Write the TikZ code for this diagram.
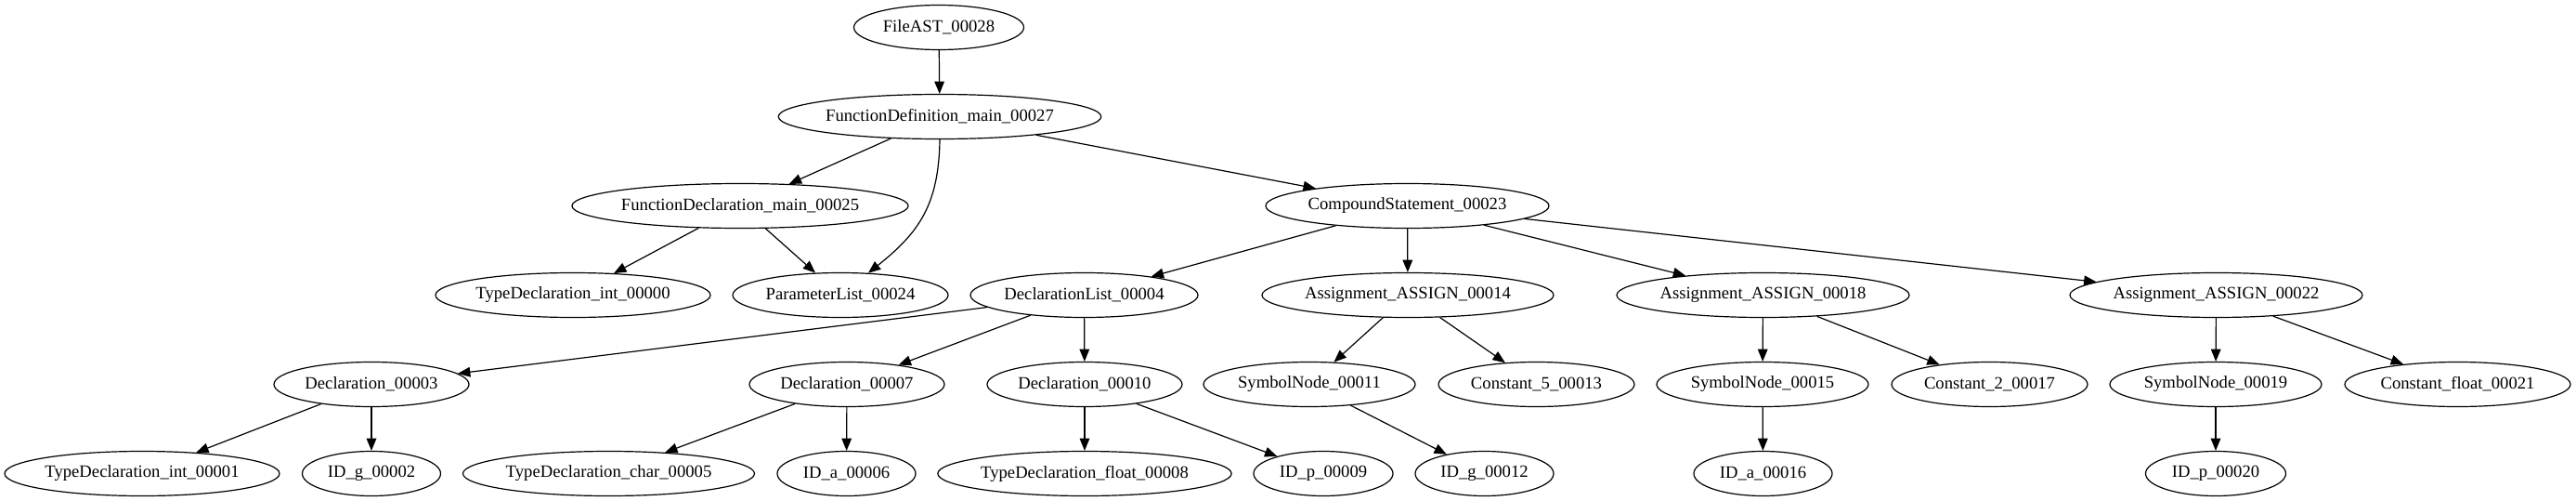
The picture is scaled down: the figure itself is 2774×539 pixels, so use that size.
\documentclass[tikz,border=0pt]{standalone}
\usepackage{fontspec}
\setmainfont{Liberation Serif}
\usetikzlibrary{shapes.geometric,arrows.meta}
\tikzset{
  nd/.style={ellipse, draw, line width=0.9pt, inner sep=0pt, minimum height=36pt,
    font=\fontsize{14}{16}\selectfont},
  w/.style={minimum width=#1*0.75pt},
  edge/.style={draw, line width=0.9pt, -{Triangle[length=10pt,width=8pt]}}
}
\begin{document}
\begin{tikzpicture}[x=0.75pt,y=-0.75pt]
\useasboundingbox (0,0) rectangle (2774,539);
% row 1
\node[nd,w=183] (fa) at (1011,29.5) {FileAST\_00028};
% row 2
\node[nd,w=338] (fd) at (1012,125.5) {FunctionDefinition\_main\_00027};
% row 3
\node[nd,w=354] (fdecl) at (797,221.5) {FunctionDeclaration\_main\_00025};
\node[nd,w=305] (cs) at (1515.5,221.5) {CompoundStatement\_00023};
% row 4
\node[nd,w=296] (td0) at (617,317.5) {TypeDeclaration\_int\_00000};
\node[nd,w=232] (pl) at (905,317.5) {ParameterList\_00024};
\node[nd,w=245] (dl) at (1167.5,317.5) {DeclarationList\_00004};
\node[nd,w=314] (a14) at (1516,317.5) {Assignment\_ASSIGN\_00014};
\node[nd,w=315] (a18) at (1898.5,317.5) {Assignment\_ASSIGN\_00018};
\node[nd,w=315] (a22) at (2386.5,317.5) {Assignment\_ASSIGN\_00022};
% row 5
\node[nd,w=210] (d3) at (400,413.5) {Declaration\_00003};
\node[nd,w=210] (d7) at (912,413.5) {Declaration\_00007};
\node[nd,w=210] (d10) at (1168,413.5) {Declaration\_00010};
\node[nd,w=228] (s11) at (1410,413.5) {SymbolNode\_00011};
\node[nd,w=211] (c5) at (1654.5,413.5) {Constant\_5\_00013};
\node[nd,w=228] (s15) at (1898,413.5) {SymbolNode\_00015};
\node[nd,w=211] (c2) at (2142.5,413.5) {Constant\_2\_00017};
\node[nd,w=228] (s19) at (2386,413.5) {SymbolNode\_00019};
\node[nd,w=243] (cf) at (2646.5,413.5) {Constant\_float\_00021};
% row 6
\node[nd,w=296] (t1) at (153,509.5) {TypeDeclaration\_int\_00001};
\node[nd,w=149] (g2) at (400,509.5) {ID\_g\_00002};
\node[nd,w=314] (t5) at (655.5,509.5) {TypeDeclaration\_char\_00005};
\node[nd,w=149] (a6) at (911.5,509.5) {ID\_a\_00006};
\node[nd,w=314] (t8) at (1168,509.5) {TypeDeclaration\_float\_00008};
\node[nd,w=150] (p9) at (1425,509.5) {ID\_p\_00009};
\node[nd,w=149] (g12) at (1598.5,509.5) {ID\_g\_00012};
\node[nd,w=149] (a16) at (1898.5,509.5) {ID\_a\_00016};
\node[nd,w=151] (p20) at (2386,509.5) {ID\_p\_00020};
% edges
\draw[edge] (fa) -- (fd);
\draw[edge] (fd) -- (fdecl);
\draw[edge] (fd.south) .. controls (1011,220) and (990,250) .. (pl);
\draw[edge] (fd) -- (cs);
\draw[edge] (fdecl) -- (td0);
\draw[edge] (fdecl) -- (pl);
\draw[edge] (cs) -- (dl);
\draw[edge] (cs) -- (a14);
\draw[edge] (cs) -- (a18);
\draw[edge] (cs) -- (a22);
\draw[edge] (dl) -- (d3);
\draw[edge] (dl) -- (d7);
\draw[edge] (dl) -- (d10);
\draw[edge] (d3) -- (t1);
\draw[edge] (d3) -- (g2);
\draw[edge] (d7) -- (t5);
\draw[edge] (d7) -- (a6);
\draw[edge] (d10) -- (t8);
\draw[edge] (d10) -- (p9);
\draw[edge] (a14) -- (s11);
\draw[edge] (a14) -- (c5);
\draw[edge] (s11) -- (g12);
\draw[edge] (a18) -- (s15);
\draw[edge] (a18) -- (c2);
\draw[edge] (s15) -- (a16);
\draw[edge] (a22) -- (s19);
\draw[edge] (a22) -- (cf);
\draw[edge] (s19) -- (p20);
\end{tikzpicture}
\end{document}
